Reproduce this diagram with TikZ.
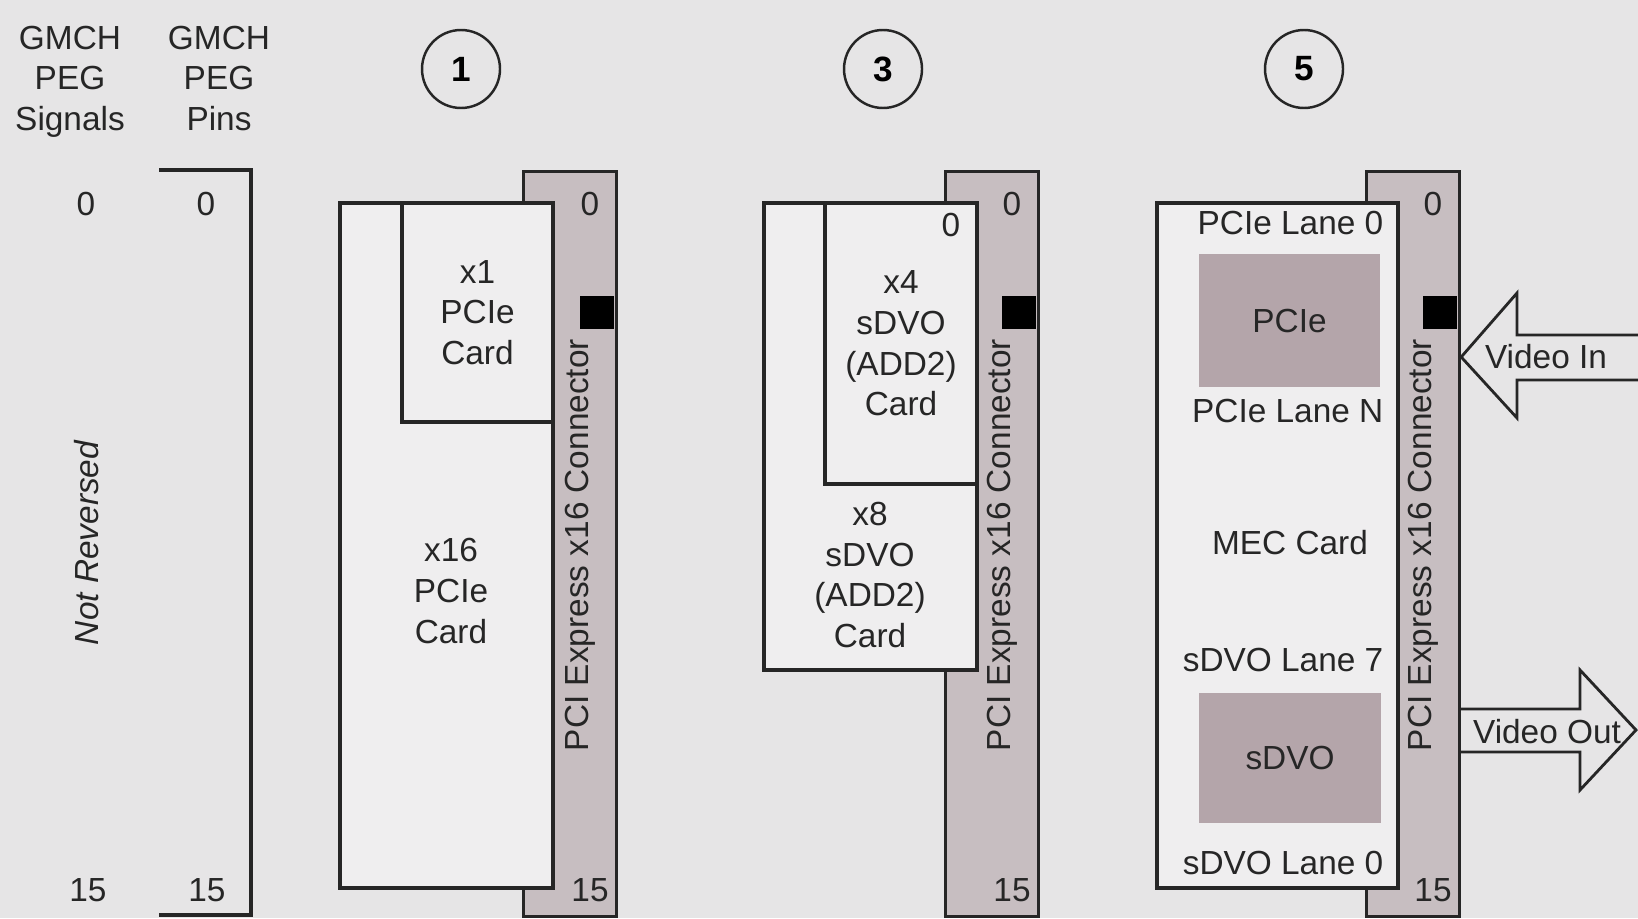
\documentclass[tikz,border=0pt]{standalone}
\usepackage{fontspec}
\setmainfont{Liberation Sans}
\setsansfont{Liberation Sans}
\usepackage{tikz}
\definecolor{paper}{HTML}{E6E5E6}
\definecolor{cardfill}{HTML}{EFEEEF}
\definecolor{connfill}{HTML}{C7BEC1}
\definecolor{lanefill}{HTML}{B4A5AA}
\definecolor{ink}{HTML}{262626}

\begin{document}
\begin{tikzpicture}[
  txt/.style={font=\sffamily\fontsize{9.5}{11.6}\selectfont,text=ink,inner sep=0pt,align=center},
  card/.style={draw=ink,fill=cardfill,line width=0.9pt,inner sep=0pt,font=\sffamily\fontsize{9.5}{11.6}\selectfont,text=ink,align=center},
  conn/.style={draw=ink,fill=connfill,line width=0.9pt,inner sep=0pt,minimum width=0.93cm,minimum height=7.45cm},
  pinblk/.style={fill=black,inner sep=0pt,minimum width=0.34cm,minimum height=0.33cm},
  lanebox/.style={fill=lanefill,inner sep=0pt,font=\sffamily\fontsize{9.5}{11.6}\selectfont,text=ink},
  num/.style={circle,draw=ink,line width=0.7pt,minimum size=0.78cm,inner sep=0pt,font=\sffamily\bfseries\fontsize{10}{12}\selectfont},
  edge/.style={draw=ink,line width=0.9pt},
  varrow/.style={draw=ink,line width=0.8pt,line join=miter}]
  \useasboundingbox (0,0) rectangle (16.38,-9.18);
  \fill[paper] (0,0) rectangle (16.38,-9.18);
  % GMCH side
  \node[txt,anchor=north] (sig) at (0.70,-0.25) {GMCH\\PEG\\Signals};
  \node[txt,anchor=north] (pin) at (2.19,-0.25) {GMCH\\PEG\\Pins};
  \node[txt] (sig0) at (0.86,-2.04) {0};
  \node[txt] (sig15) at (0.88,-8.90) {15};
  \node[txt] (pin0) at (2.06,-2.04) {0};
  \node[txt] (pin15) at (2.07,-8.90) {15};
  \node[txt,rotate=90] (nrev) at (0.87,-5.43) {\itshape Not Reversed};
  \draw[edge] (1.59,-1.70) -| (2.51,-9.15) -- (1.59,-9.15);
  % connectors
  \foreach \n/\x in {1/5.22,3/9.44,5/13.65}{
    \node[num] (n\n) at (\x-0.61,-0.69) {\n};
    \node[conn,anchor=north west] (conn\n) at (\x,-1.70) {};
    \node[pinblk,anchor=north east] (key\n) at (\x+0.93,-2.95) {};
    \node[txt] (top\n) at (\x+0.68,-2.04) {0};
    \node[txt] (bot\n) at (\x+0.68,-8.90) {15};
    \node[txt,rotate=90] (lab\n) at (\x+0.58,-5.45) {PCI Express x16 Connector};
  }
  % 1
  \node[card,minimum width=2.13cm,minimum height=6.85cm] (c16) at (4.465,-5.455) {};
  \node[txt] (t16) at (4.51,-5.91) {x16\\PCIe\\Card};
  \node[card,minimum width=1.51cm,minimum height=2.19cm] (c1) at (4.775,-3.125) {x1\\PCIe\\Card};
  % 3
  \node[card,minimum width=2.13cm,minimum height=4.67cm] (c8) at (8.705,-4.365) {};
  \node[txt] (t8) at (8.70,-5.75) {x8\\sDVO\\(ADD2)\\Card};
  \node[card,minimum width=1.52cm,minimum height=2.81cm] (c4) at (9.01,-3.435) {x4\\sDVO\\(ADD2)\\Card};
  \node[txt] (z4) at (9.51,-2.25) {0};
  % 5
  \node[card,minimum width=2.41cm,minimum height=6.85cm] (mec) at (12.775,-5.455) {};
  \node[lanebox,minimum width=1.81cm,minimum height=1.33cm] (pcie) at (12.895,-3.205) {PCIe};
  \node[lanebox,minimum width=1.82cm,minimum height=1.30cm] (sdvo) at (12.90,-7.58) {sDVO};
  \node[txt,anchor=east] (pl0) at (13.84,-2.23) {PCIe Lane 0};
  \node[txt,anchor=east] (pln) at (13.84,-4.11) {PCIe Lane N};
  \node[txt] (mect) at (12.90,-5.43) {MEC Card};
  \node[txt,anchor=east] (sl7) at (13.84,-6.60) {sDVO Lane 7};
  \node[txt,anchor=east] (sl0) at (13.84,-8.63) {sDVO Lane 0};
  % video
  \node[txt] (vin) at (15.46,-3.57) {Video In};
  \draw[varrow] (16.38,-3.35) -- (15.17,-3.35) -- (15.17,-2.93) -- (conn5.east |- vin) -- (15.17,-4.18) -- (15.17,-3.80) -- (16.38,-3.80);
  \node[txt] (vout) at (15.47,-7.32) {Video Out};
  \draw[varrow] (conn5.east |- 0,-7.09) -- (15.80,-7.09) -- (15.80,-6.70) -- (16.36,-7.30) -- (15.80,-7.90) -- (15.80,-7.52) -- (conn5.east |- 0,-7.52);
\end{tikzpicture}
\end{document}
